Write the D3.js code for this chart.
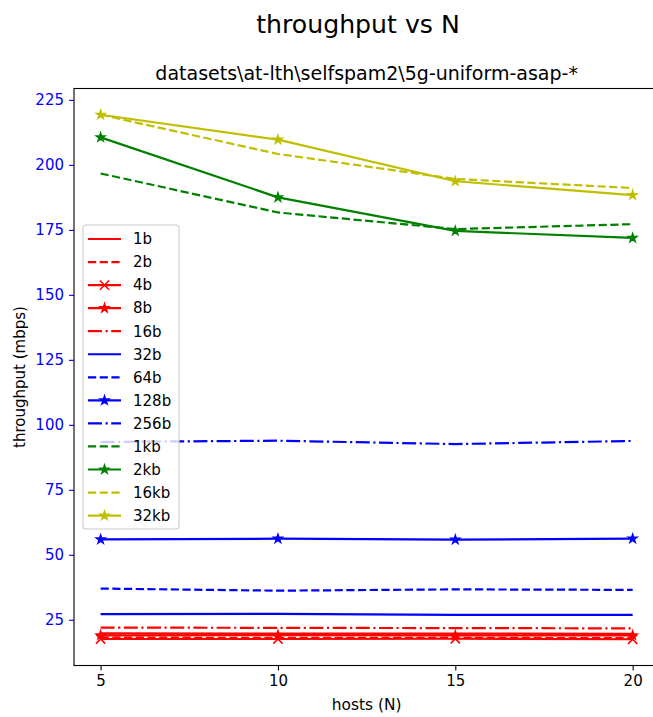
<!DOCTYPE html>
<html>
<head>
<meta charset="utf-8">
<script src="https://cdn.jsdelivr.net/npm/d3@7"></script>
<style>
  html, body { margin: 0; padding: 0; background: #fff; }
  svg { display: block; font-family: "DejaVu Sans", sans-serif; }
</style>
</head>
<body>
<svg id="chart" width="653" height="717"></svg>
<script>
// host counts on the x axis
const hosts = [5, 10, 15, 20];
const xTicks = [5, 10, 15, 20];
const yTicks = [25, 50, 75, 100, 125, 150, 175, 200, 225];

// throughput (mbps) per message size
const tp1b   = [19.8, 19.7, 19.7, 19.6];
const tp2b   = [18.2, 18.0, 18.1, 17.9];
const tp4b   = [17.6, 17.6, 17.7, 17.5];
const tp8b   = [19.0, 19.1, 19.0, 19.0];
const tp16b  = [22.0, 21.9, 21.8, 21.7];
const tp32b  = [27.2, 27.3, 26.9, 26.9];
const tp64b  = [37.0, 36.2, 36.7, 36.5];
const tp128b = [55.9, 56.2, 55.8, 56.2];
const tp256b = [93.4, 93.9, 92.6, 93.8];
const tp1kb  = [196.7, 181.7, 175.3, 177.2];
const tp2kb  = [210.6, 187.5, 174.6, 171.9];
const tp16kb = [219.3, 204.2, 194.6, 191.1];
const tp32kb = [219.3, 209.7, 193.7, 188.4];

const sizeLabels = ["1b", "2b", "4b", "8b", "16b", "32b", "64b", "128b", "256b", "1kb", "2kb", "16kb", "32kb"];
const sizeValues = [tp1b, tp2b, tp4b, tp8b, tp16b, tp32b, tp64b, tp128b, tp256b, tp1kb, tp2kb, tp16kb, tp32kb];

// line styling per series (colour, dash, marker)
const R = "#ff0000", B = "#0000ff", G = "#008000", Y = "#bfbf00";
const lw = 2.2;
const DASHED = [8.2, 3.5];
const DASHDOT = [14, 3.5, 2.2, 3.5];
const styles = [
  { c: R, dash: null,    m: null },
  { c: R, dash: DASHED,  m: null },
  { c: R, dash: null,    m: "x" },
  { c: R, dash: null,    m: "star" },
  { c: R, dash: DASHDOT, m: null },
  { c: B, dash: null,    m: null },
  { c: B, dash: DASHED,  m: null },
  { c: B, dash: null,    m: "star" },
  { c: B, dash: DASHDOT, m: null },
  { c: G, dash: DASHED,  m: null },
  { c: G, dash: null,    m: "star" },
  { c: Y, dash: DASHED,  m: null },
  { c: Y, dash: null,    m: "star" }
];

const series = sizeLabels.map((name, i) => ({
  name, style: styles[i],
  points: hosts.map((h, j) => ({ x: h, y: sizeValues[i][j] }))
}));

const svg = d3.select("#chart");
const plot = { left: 74, top: 88.5, bottom: 665.5 };

// axis domains with 5% padding around the data
const allY = sizeValues.flat();
const yMin = d3.min(allY), yMax = d3.max(allY);
const yPad = (yMax - yMin) * 0.05;
const xPad = (d3.max(hosts) - d3.min(hosts)) * 0.05;
const xDomain = [d3.min(hosts) - xPad, d3.max(hosts) + xPad];
const pxPerHost = 35.47;
const plotRight = plot.left + (xDomain[1] - xDomain[0]) * pxPerHost;

const x = d3.scaleLinear().domain(xDomain).range([plot.left, plotRight]);
const y = d3.scaleLinear().domain([yMin - yPad, yMax + yPad]).range([plot.bottom, plot.top]);

// titles
svg.append("text").attr("x", 358).attr("y", 33).attr("text-anchor", "middle")
  .attr("font-size", 25.2).attr("fill", "#000").text("throughput vs N");
svg.append("text").attr("x", (plot.left + plotRight) / 2).attr("y", 80).attr("text-anchor", "middle")
  .attr("font-size", 19.0).attr("fill", "#000").text("datasets\\at-lth\\selfspam2\\5g-uniform-asap-*");

// axes
const xAxis = svg.append("g").attr("transform", `translate(0,${plot.bottom})`)
  .call(d3.axisBottom(x).tickValues(xTicks).tickSize(5).tickPadding(5).tickFormat(d3.format("d")));
xAxis.select(".domain").remove();
xAxis.selectAll("line").attr("stroke", "#000").attr("stroke-width", 1.1);
xAxis.selectAll("text").attr("font-size", 15).attr("fill", "#000").attr("font-family", "DejaVu Sans");

const yAxis = svg.append("g").attr("transform", `translate(${plot.left},0)`)
  .call(d3.axisLeft(y).tickValues(yTicks).tickSize(5).tickPadding(5).tickFormat(d3.format("d")));
yAxis.select(".domain").remove();
yAxis.selectAll("line").attr("stroke", B).attr("stroke-width", 1.1);
yAxis.selectAll("text").attr("font-size", 15).attr("fill", B).attr("font-family", "DejaVu Sans");

svg.append("text").attr("x", (plot.left + plotRight) / 2).attr("y", 710).attr("text-anchor", "middle")
  .attr("font-size", 15.4).text("hosts (N)");
svg.append("text").attr("transform", `translate(25,${(plot.top + plot.bottom) / 2}) rotate(-90)`)
  .attr("text-anchor", "middle").attr("font-size", 15).text("throughput (mbps)");

// lines and markers
const starPath = (() => {
  const ro = 4.7, ri = ro * 0.381966;
  const pts = [];
  for (let k = 0; k < 10; k++) {
    const r = k % 2 === 0 ? ro : ri;
    const a = -Math.PI / 2 + k * Math.PI / 5;
    pts.push([r * Math.cos(a), r * Math.sin(a)]);
  }
  return "M" + pts.map(p => p[0].toFixed(2) + "," + p[1].toFixed(2)).join("L") + "Z";
})();

function drawMarker(g, kind, color, cx, cy) {
  if (kind === "star") {
    g.append("path").attr("d", starPath).attr("transform", `translate(${cx},${cy})`)
      .attr("fill", color).attr("stroke", color).attr("stroke-width", 1.3).attr("stroke-linejoin", "miter");
  } else if (kind === "x") {
    const s = 4.6;
    g.append("path").attr("d", `M${-s},${-s}L${s},${s}M${-s},${s}L${s},${-s}`)
      .attr("transform", `translate(${cx},${cy})`)
      .attr("fill", "none").attr("stroke", color).attr("stroke-width", 1.5);
  }
}

const line = d3.line().x(d => x(d.x)).y(d => y(d.y));
const plotG = svg.append("g");
series.forEach(s => {
  const g = plotG.append("g");
  g.append("path").datum(s.points).attr("d", line)
    .attr("fill", "none").attr("stroke", s.style.c).attr("stroke-width", lw)
    .attr("stroke-linecap", "butt").attr("stroke-linejoin", "round")
    .attr("stroke-dasharray", s.style.dash ? s.style.dash.join(",") : null);
  if (s.style.m) s.points.forEach(p => drawMarker(g, s.style.m, s.style.c, x(p.x), y(p.y)));
});

// frame
svg.append("rect").attr("x", plot.left).attr("y", plot.top)
  .attr("width", plotRight - plot.left).attr("height", plot.bottom - plot.top)
  .attr("fill", "none").attr("stroke", "#000").attr("stroke-width", 1.1);

// legend
const lg = { x: 83, y: 225, w: 96, h: 304, rowH: 23.05, first: 239 };
const legend = svg.append("g");
legend.append("rect").attr("x", lg.x).attr("y", lg.y).attr("width", lg.w).attr("height", lg.h)
  .attr("rx", 3).attr("fill", "#fff").attr("fill-opacity", 0.8)
  .attr("stroke", "#cccccc").attr("stroke-width", 1.1);
series.forEach((s, i) => {
  const cy = lg.first + i * lg.rowH;
  legend.append("line").attr("x1", 88).attr("x2", 121).attr("y1", cy).attr("y2", cy)
    .attr("stroke", s.style.c).attr("stroke-width", lw)
    .attr("stroke-dasharray", s.style.dash ? s.style.dash.join(",") : null);
  if (s.style.m) drawMarker(legend, s.style.m, s.style.c, 104.5, cy);
  legend.append("text").attr("x", 133).attr("y", cy + 5.3).attr("font-size", 15).text(s.name);
});
</script>
</body>
</html>
